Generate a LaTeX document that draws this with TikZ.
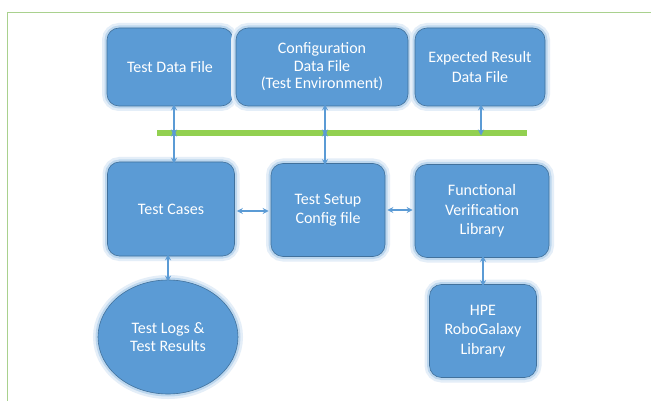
\documentclass[tikz,border=0pt]{standalone}
\usepackage{fontspec}
\setmainfont{Carlito}
\usetikzlibrary{arrows.meta,shapes.geometric,calc}
\definecolor{boxfill}{HTML}{5B9BD5}
\definecolor{boxline}{HTML}{41719C}
\definecolor{glowA}{HTML}{E4EEF8}
\definecolor{glowB}{HTML}{BDD7EE}
\definecolor{barg}{HTML}{92D050}
\definecolor{frameg}{HTML}{A9D18E}
\definecolor{arrc}{HTML}{5B9BD5}
\tikzset{
  glow/.style={preaction={draw=glowA,line width=10pt},preaction={draw=glowB,line width=5pt}},
  blk/.style={glow,draw=boxline,fill=boxfill,line width=0.6pt,rounded corners=12pt,
    text=white,align=center,font=\fontsize{16}{19.5}\selectfont,inner sep=2pt},
  tight/.style={font=\fontsize{16}{17.5}\selectfont},
  ell/.style={glow,ellipse,draw=boxline,fill=boxfill,line width=0.6pt,
    text=white,align=center,font=\fontsize{16}{18.5}\selectfont,inner sep=0pt},
  arr/.style={draw=arrc,line width=1.1pt,{Stealth[length=6pt,width=6pt]}-{Stealth[length=6pt,width=6pt]}},
}
\begin{document}
\begin{tikzpicture}[x=1pt,y=-1pt]
\useasboundingbox (0,0) rectangle (651,401);
\fill[white] (0,0) rectangle (651,401);
% frame
\draw[frameg,line width=1.2pt] (7.5,401) -- (7.5,12.5) -- (651,12.5);
% top row
\node[blk,minimum width=126pt,minimum height=78pt] (tdf) at (170,67) {Test Data File};
\node[blk,tight,minimum width=172pt,minimum height=78pt] (cdf) at (322,67) {Configuration\\Data File\\(Test Environment)};
\node[blk,minimum width=130pt,minimum height=78pt] (erd) at (480,67) {Expected Result\\Data File};
% bar
\coordinate (barL) at (157,133);
\coordinate (barR) at (527,133);
\draw[barg,line width=5.5pt] (barL) -- (barR);
\coordinate (j1) at (174,133);
\coordinate (j2) at (325,133);
\coordinate (j3) at (481,133);
% middle row
\node[blk,minimum width=127pt,minimum height=94pt] (tc) at (171,209) {Test Cases};
\node[blk,minimum width=114pt,minimum height=93pt] (ts) at (328,210) {Test Setup\\Config file};
\node[blk,minimum width=134pt,minimum height=93pt] (fv) at (482,211) {Functional\\Verification\\Library};
% bottom row
\node[ell,minimum width=140pt,minimum height=114pt] (tl) at (168,337) {Test Logs \&\\Test Results};
\node[blk,minimum width=107pt,minimum height=93pt] (hpe) at (483,331) {HPE\\RoboGalaxy\\Library};
% connectors
\draw[arr] ([yshift=2pt]j1 |- tdf.south) -- ([yshift=-2.5pt]j1);
\draw[arr] ([yshift=2.5pt]j1) -- ([yshift=-2pt]j1 |- tc.north);
\draw[arr] ([yshift=2pt]j2 |- cdf.south) -- ([yshift=-2.5pt]j2);
\draw[arr] ([yshift=2.5pt]j2) -- ([yshift=-2pt]j2 |- ts.north);
\draw[arr] ([yshift=2pt]j3 |- erd.south) -- ([yshift=-2.5pt]j3);
\draw[arr] ([xshift=2pt]tc.east |- 0,211) -- ([xshift=-2pt]ts.west |- 0,211);
\draw[arr] ([xshift=2pt]ts.east |- 0,210) -- ([xshift=-2pt]fv.west |- 0,210);
\draw[arr] ([yshift=2pt]tc.south -| tl.north) -- ([yshift=-2pt]tl.north);
\draw[arr] ([yshift=2pt]fv.south -| hpe.north) -- ([yshift=-2pt]hpe.north);
\end{tikzpicture}
\end{document}
